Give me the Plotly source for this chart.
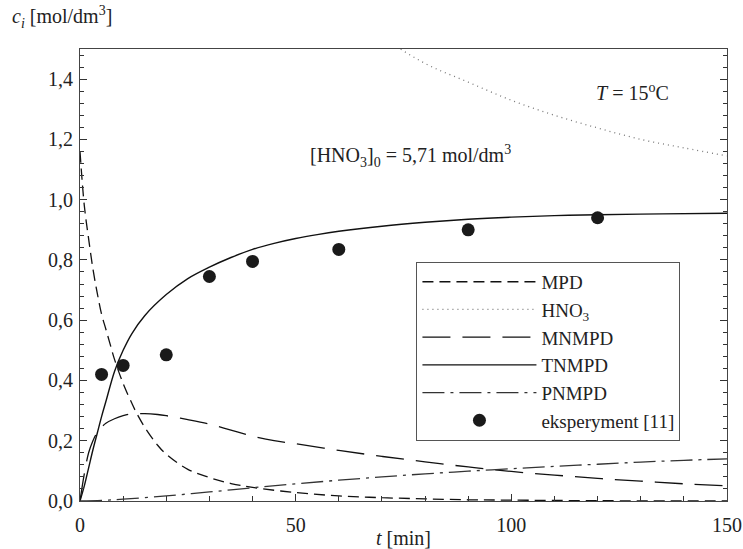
import plotly.graph_objects as go

# Data
t_mpd = [0, 1, 2, 3, 4, 5, 6, 7, 8, 10, 12, 13, 15, 18, 20, 25, 30, 35, 40, 50, 60, 70, 80, 90, 100, 120, 150]
c_mpd = [1.16, 0.98, 0.87, 0.77, 0.69, 0.62, 0.57, 0.52, 0.47, 0.39, 0.325, 0.295, 0.245, 0.185, 0.155, 0.105,
         0.078, 0.058, 0.045, 0.028, 0.017, 0.011, 0.007, 0.004, 0.003, 0.001, 0.0]

t_hno3 = [60, 70, 80, 90, 100, 110, 120, 130, 140, 150]
c_hno3 = [1.64, 1.54, 1.452, 1.39, 1.33, 1.28, 1.238, 1.2, 1.172, 1.145]

t_mn = [0, 1, 2, 3, 4, 5, 6, 8, 10, 12, 15, 18, 20, 25, 30, 35, 40, 45, 50, 60, 70, 80, 90, 100, 110, 120, 130, 140, 150]
c_mn = [0.0, 0.09, 0.16, 0.2, 0.228, 0.245, 0.258, 0.273, 0.283, 0.289, 0.29, 0.287, 0.283, 0.27, 0.255, 0.235,
        0.215, 0.2, 0.19, 0.168, 0.148, 0.13, 0.113, 0.098, 0.086, 0.075, 0.066, 0.057, 0.05]

t_tn = [0, 1, 2, 3, 4, 5, 6, 8, 10, 12, 15, 20, 25, 30, 35, 40, 45, 50, 55, 60, 70, 80, 90, 100, 110, 120, 135, 150]
c_tn = [0.0, 0.05, 0.11, 0.17, 0.225, 0.28, 0.33, 0.43, 0.5, 0.555, 0.615, 0.685, 0.738, 0.776, 0.808, 0.835,
        0.855, 0.871, 0.884, 0.895, 0.912, 0.925, 0.935, 0.942, 0.947, 0.95, 0.953, 0.955]

t_pn = [0, 5, 10, 20, 30, 40, 50, 60, 70, 80, 90, 100, 110, 120, 130, 140, 150]
c_pn = [0.0, 0.002, 0.006, 0.017, 0.03, 0.044, 0.057, 0.069, 0.08, 0.09, 0.099, 0.107, 0.115, 0.122, 0.129, 0.135, 0.14]

t_exp = [5, 10, 20, 30, 40, 60, 90, 120]
c_exp = [0.42, 0.45, 0.485, 0.745, 0.795, 0.835, 0.90, 0.94]

names = ["MPD", "HNO<sub>3</sub>", "MNMPD", "TNMPD", "PNMPD", "eksperyment [11]"]

FONT = "Liberation Serif"
FS = 20

fig = go.Figure()
fig.add_trace(go.Scatter(x=t_mpd, y=c_mpd, mode="lines", name=names[0], line_shape="spline",
                         line=dict(color="#111", width=1.3, dash="11px,6px")))
fig.add_trace(go.Scatter(x=t_hno3, y=c_hno3, mode="lines", name=names[1], line_shape="spline",
                         line=dict(color="#777", width=1.3, dash="1px,4px")))
fig.add_trace(go.Scatter(x=t_mn, y=c_mn, mode="lines", name=names[2], line_shape="spline",
                         line=dict(color="#111", width=1.3, dash="28px,12px")))
fig.add_trace(go.Scatter(x=t_tn, y=c_tn, mode="lines", name=names[3], line_shape="spline",
                         line=dict(color="#111", width=1.4)))
fig.add_trace(go.Scatter(x=t_pn, y=c_pn, mode="lines", name=names[4], line_shape="spline",
                         line=dict(color="#333", width=1.3, dash="22px,6px,3px,6px")))
fig.add_trace(go.Scatter(x=t_exp, y=c_exp, mode="markers", name=names[5],
                         marker=dict(color="#1a1a1a", size=13)))

fig.update_layout(
    width=743, height=549,
    margin=dict(l=80, r=16, t=49, b=48),
    plot_bgcolor="white", paper_bgcolor="white",
    separators=", ",
    font=dict(family=FONT, size=FS, color="#222"),
    showlegend=True,
    legend=dict(x=0.52, y=0.529, xanchor="left", yanchor="top",
                bordercolor="#555", borderwidth=1, bgcolor="white",
                itemwidth=114, font=dict(family=FONT, size=19, color="#222"),
                tracegroupgap=0),
)
fig.update_xaxes(range=[0, 150], tickvals=[0, 50, 100, 150], ticks="inside", ticklen=7,
                 tickcolor="#333", showline=True, linecolor="#444", linewidth=1.2, mirror=True,
                 showgrid=False, zeroline=False, automargin=False, ticklabelstandoff=6,
                 minor=dict(dtick=10, ticks="inside", ticklen=5, tickcolor="#333"),
                 title=dict(text="<i>t</i> [min]", standoff=3, font=dict(size=FS)))
fig.update_yaxes(range=[0, 1.5], dtick=0.2, tick0=0, tickformat=".1f", ticks="inside", ticklen=7,
                 tickcolor="#333", showline=True, linecolor="#444", linewidth=1.2, mirror="ticks",
                 showgrid=False, zeroline=False, automargin=False, ticklabelstandoff=2,
                 minor=dict(dtick=0.04, ticks="inside", ticklen=4, tickcolor="#333"))

fig.add_annotation(xref="paper", yref="paper", x=-0.108, y=1.07, xanchor="left", yanchor="middle",
                   text="<i>c<sub>i</sub></i> [mol/dm<sup>3</sup>]", showarrow=False,
                   font=dict(family=FONT, size=FS, color="#222"))
fig.add_annotation(x=128, y=1.357, text="<i>T</i> = 15<sup>o</sup>C", showarrow=False,
                   font=dict(family=FONT, size=FS, color="#222"))
fig.add_annotation(x=76.6, y=1.144, text="[HNO<sub>3</sub>]<sub>0</sub> = 5,71 mol/dm<sup>3</sup>",
                   showarrow=False, font=dict(family=FONT, size=FS, color="#222"))

fig.write_html("out.html")
